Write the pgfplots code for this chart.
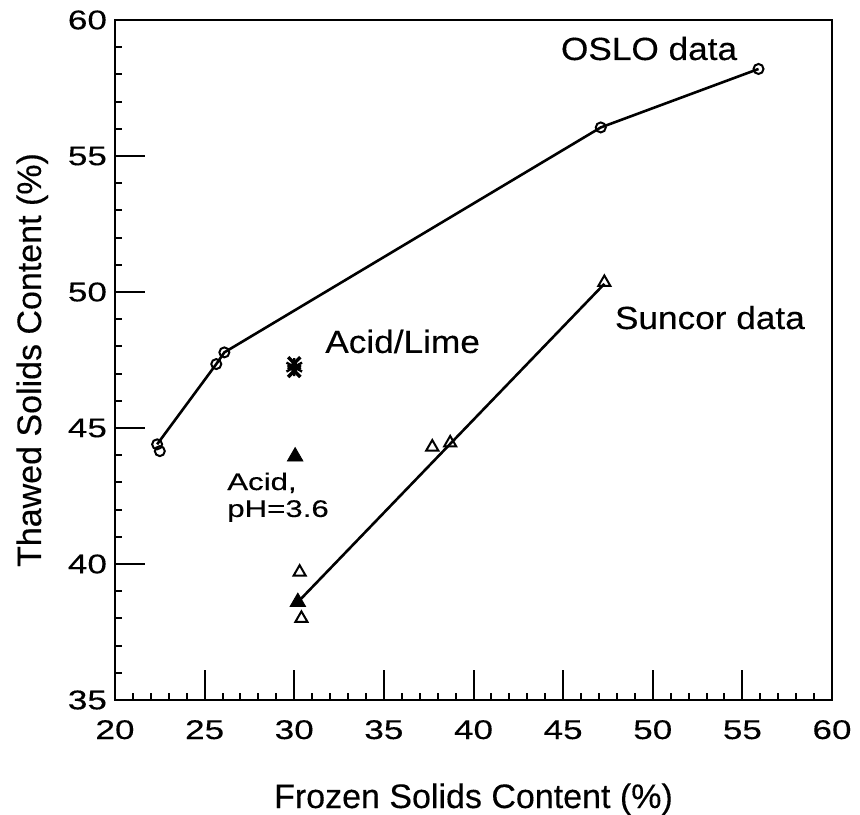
\documentclass[border=0pt]{standalone}
\usepackage{fontspec}
\setmainfont[FakeBold=0.3]{Liberation Sans}
\newfontfamily\tickfont[FakeStretch=1.3,FakeBold=0.3]{Liberation Sans}
\newfontfamily\annfont[FakeStretch=1.1,FakeBold=0.3]{Liberation Sans}
\usepackage{pgfplots}
\pgfplotsset{compat=1.18}
\usetikzlibrary{calc}
\begin{document}
\begin{tikzpicture}
\begin{axis}[
  scale only axis, width=358.5pt, height=340pt,
  xmin=20, xmax=60, ymin=35, ymax=60,
  xtick={20,25,...,60}, ytick={35,40,...,60},
  minor tick num=4,
  tick align=inside, xtick pos=left, ytick pos=left,
  major tick length=15pt, minor tick length=3.5pt,
  axis line style={line width=1.4pt},
  every tick/.style={black, line width=1pt},
  /pgf/number format/assume math mode=true,
  ticklabel style={font=\tickfont\fontsize{13.5}{13.5}\selectfont},
  xticklabel style={anchor=base, yshift=-19.5pt},
  yticklabel style={anchor=east, xshift=-0.5pt},
  clip=false,
]
% OSLO data
\addplot[black, line width=1.3pt, mark=o, mark size=2.5pt, mark options={line width=1pt}]
  coordinates {(22.35,44.4) (25.65,47.35) (26.1,47.78) (47.1,56.05) (55.9,58.2)};
\addplot[black, only marks, mark=o, mark size=2.5pt, mark options={line width=1pt}]
  coordinates {(22.5,44.15)};
% Suncor data line
\addplot[black, line width=1.3pt, no marks] coordinates {(30.2,38.6) (47.3,50.3)};
\addplot[black, only marks, mark=triangle, mark size=3.5pt, mark options={line width=1pt}]
  coordinates {(30.3,39.7) (30.4,38.0) (37.7,44.3) (38.7,44.45) (47.3,50.35)};
% filled triangles
\addplot[black, only marks, mark=triangle*, mark size=4.5pt]
  coordinates {(30.05,43.95) (30.2,38.6)};
% Acid/Lime
\addplot[black, only marks, mark=x, mark size=4.3pt, mark options={line width=1.7pt}]
  coordinates {(30,47.1) (30,47.38)};
\addplot[black, only marks, mark=asterisk, mark size=4.5pt, mark options={line width=1.2pt}]
  coordinates {(30,47.24)};
\node[anchor=base east, font=\annfont\fontsize{16}{16}\selectfont] at (axis cs:55.1,58.53) {OSLO data};
\node[anchor=base west, font=\annfont\fontsize{16}{16}\selectfont] at (axis cs:47.5,48.64) {Suncor data};
\node[anchor=base west, font=\annfont\fontsize{16}{16}\selectfont] at (axis cs:31.34,47.76) {Acid/Lime};
\node[anchor=base west, font=\tickfont\fontsize{12}{12}\selectfont] at (axis cs:25.87,42.72) {Acid,};
\node[anchor=base west, font=\tickfont\fontsize{12}{12}\selectfont] at (axis cs:25.87,41.73) {pH=3.6};
\end{axis}
\node[anchor=base, font=\fontsize{17}{17}\selectfont] at ($(current axis.south)+(0,-54pt)$) {Frozen Solids Content (\%)};
\node[anchor=base, rotate=90, font=\fontsize{17}{17}\selectfont] at ($(current axis.west)+(-37pt,0)$) {Thawed Solids Content (\%)};
\pgfresetboundingbox
\path[use as bounding box] ($(current axis.south west)+(-57.5pt,-57pt)$) rectangle ($(current axis.north east)+(14pt,10pt)$);
\end{tikzpicture}
\end{document}
